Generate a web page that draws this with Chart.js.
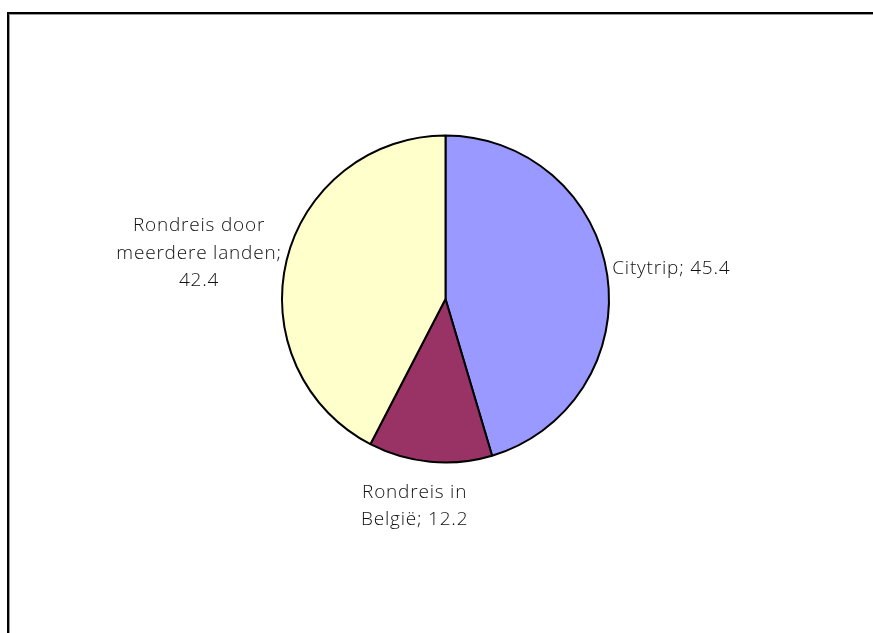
<!DOCTYPE html>
<html>
<head>
<meta charset="utf-8">
<script src="https://cdn.jsdelivr.net/npm/chart.js@4/dist/chart.umd.min.js"></script>
<style>
  html, body { margin: 0; padding: 0; background: #fff; }
  #wrap { position: relative; width: 873px; height: 633px; overflow: hidden; }
  #frame { position: absolute; left: 7px; top: 12px; width: 900px; height: 700px;
           border: 2px solid #000; box-shadow: 1px 1px 0 #999 inset; box-sizing: border-box; }
  #c { position: absolute; left: 0; top: 0; }
</style>
</head>
<body>
<div id="wrap">
  <div id="frame"></div>
  <canvas id="c" width="873" height="633"></canvas>
</div>
<script>
const categories = ["Citytrip", "Rondreis in België", "Rondreis door meerdere landen"];
const labelLines = [["Citytrip; 45.4"], ["Rondreis in", "België; 12.2"], ["Rondreis door", "meerdere landen;", "42.4"]];
const values = [45.4, 12.2, 42.4];
const colors = ["#9999FF", "#993366", "#FFFFCC"];

const FONT = '300 19px "Open Sans", Lato, sans-serif';
const LINE_H = 27.5;

const outsideLabels = {
  id: 'outsideLabels',
  afterDatasetsDraw(chart) {
    const ctx = chart.ctx;
    const meta = chart.getDatasetMeta(0);
    ctx.save();
    ctx.font = FONT;
    try { ctx.letterSpacing = '0.8px'; } catch (e) {}
    ctx.fillStyle = '#111';
    ctx.textBaseline = 'middle';
    meta.data.forEach((arc, i) => {
      const p = arc.getProps(['x', 'y', 'startAngle', 'endAngle', 'outerRadius'], true);
      const mid = (p.startAngle + p.endAngle) / 2;
      const cx = Math.cos(mid), sy = Math.sin(mid);
      const lines = labelLines[i];
      const gap = 5;
      const ax = p.x + (p.outerRadius + gap) * cx;
      const ay = p.y + (p.outerRadius + gap) * sy;
      const widths = lines.map(l => ctx.measureText(l).width);
      const maxW = Math.max(...widths);
      const blockH = lines.length * LINE_H;
      let centerX, topY;
      if (cx > 0.4) { centerX = ax + maxW / 2; }
      else if (cx < -0.4) { centerX = ax - maxW / 2; }
      else { centerX = ax - 15; }
      if (sy > 0.6) { topY = ay + 12; }
      else if (sy < -0.6) { topY = ay - blockH; }
      else { topY = ay - blockH / 2 - 6; }
      ctx.textAlign = 'center';
      lines.forEach((l, k) => {
        ctx.fillText(l, centerX, topY + LINE_H * (k + 0.5));
      });
    });
    ctx.restore();
  }
};

new Chart(document.getElementById('c'), {
  type: 'pie',
  data: {
    labels: categories,
    datasets: [{
      data: values,
      backgroundColor: colors,
      borderColor: '#000',
      borderWidth: 2
    }]
  },
  options: {
    responsive: false,
    animation: false,
    layout: { padding: { left: 281, right: 263, top: 134, bottom: 169 } },
    plugins: { legend: { display: false }, tooltip: { enabled: false } }
  },
  plugins: [outsideLabels]
});
</script>
</body>
</html>
